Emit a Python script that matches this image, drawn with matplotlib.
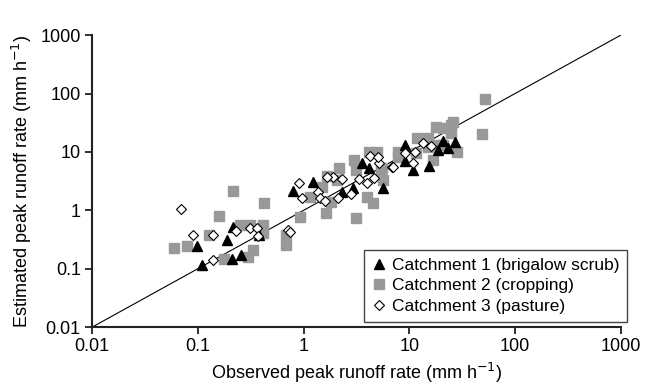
import matplotlib

matplotlib.use("Agg")
import matplotlib.pyplot as plt

plt.rcParams["font.family"] = ["Liberation Sans", "DejaVu Sans"]

# Catchment 1 (brigalow scrub) - observed / estimated peak runoff rate (mm/h)
c1_obs = [0.099, 0.11, 0.187, 0.21, 0.217, 0.256, 0.38, 0.79, 1.22, 2.29,
          2.91, 3.54, 4.18, 5.67, 9.1, 9.1, 10.9, 15.4, 20.6, 27, 23.3, 18.8]
c1_est = [0.246, 0.115, 0.31, 0.146, 0.51, 0.17, 0.38, 2.17, 3.03, 2.09,
          2.39, 6.55, 5.25, 2.45, 13.1, 7.1, 4.95, 5.75, 15.6, 15, 11.5, 10.8]

# Catchment 2 (cropping)
c2_obs = [0.060, 0.079, 0.128, 0.16, 0.217, 0.178, 0.25, 0.31, 0.30, 0.335,
          0.41, 0.41, 0.42, 0.68, 0.68, 0.92, 1.15, 1.48, 1.63, 1.82,
          1.65, 2.17, 2.08, 3.13, 4.0, 4.56, 2.99, 3.1, 4.18, 4.91,
          5.47, 5.6, 5.36, 7.85, 7.85, 11.7, 11.5, 15.1, 15.1, 18.8,
          17.8, 20.9, 24.6, 25.7, 24.6, 20.9, 28, 16.6, 49, 52]
c2_est = [0.23, 0.25, 0.38, 0.80, 2.17, 0.149, 0.56, 0.56, 0.16, 0.21,
          0.56, 0.41, 1.32, 0.38, 0.26, 0.78, 1.72, 2.54, 0.89, 1.41,
          3.88, 5.25, 3.31, 0.73, 1.68, 1.32, 7.28, 4.91, 10.1, 10.1,
          5.25, 3.31, 4.91, 10.1, 8.3, 17.1, 9.7, 12.3, 17.1, 13.1,
          26.4, 25.4, 28.9, 32.9, 20.8, 13.1, 10.1, 7.28, 20.3, 80]

# Catchment 3 (pasture)
c3_obs = [0.069, 0.090, 0.14, 0.14, 0.23, 0.31, 0.365, 0.37, 0.72, 0.75,
          0.90, 0.97, 1.38, 1.43, 1.58, 2.13, 1.88, 1.65, 2.29, 2.79,
          3.36, 3.95, 4.24, 5.2, 4.63, 6.8, 9.1, 11.3, 13.5, 10.9,
          15.9, 5.08, 7.05]
c3_est = [1.04, 0.38, 0.375, 0.14, 0.44, 0.49, 0.50, 0.37, 0.46, 0.43,
          2.98, 1.65, 2.09, 1.61, 1.47, 1.65, 3.78, 3.78, 3.41, 1.89,
          3.41, 2.91, 8.5, 6.4, 3.54, 5.6, 9.5, 10.1, 14.4, 6.55,
          12.6, 8.3, 5.46]

one_to_one = [0.01, 1000]
tick_vals = [0.01, 0.1, 1, 10, 100, 1000]
tick_labels = ["0.01", "0.1", "1", "10", "100", "1000"]

fig = plt.figure(figsize=(6.57, 3.9), dpi=100)
ax = fig.add_axes([0.140, 0.161, 0.805, 0.749])

ax.plot(one_to_one, one_to_one, color="black", lw=0.8, zorder=1)
ax.plot(c1_obs, c1_est, ls="none", marker="^", ms=7.5, color="black",
        label="Catchment 1 (brigalow scrub)", zorder=3)
ax.plot(c2_obs, c2_est, ls="none", marker="s", ms=7, color="#999999",
        label="Catchment 2 (cropping)", zorder=2)
ax.plot(c3_obs, c3_est, ls="none", marker="D", ms=5, mfc="white",
        mec="black", mew=0.8, label="Catchment 3 (pasture)", zorder=4)

ax.set_xscale("log")
ax.set_yscale("log")
ax.set_xlim(0.01, 1000)
ax.set_ylim(0.01, 1000)
ax.set_xticks(tick_vals)
ax.set_xticklabels(tick_labels)
ax.set_yticks(tick_vals)
ax.set_yticklabels(tick_labels)
ax.minorticks_off()
ax.tick_params(labelsize=13, length=5, width=1.3, color="#222222", pad=3)

for side in ["top", "right"]:
    ax.spines[side].set_visible(False)
for side in ["left", "bottom"]:
    ax.spines[side].set_linewidth(1.5)
    ax.spines[side].set_color("#222222")

ax.set_xlabel("Observed peak runoff rate (mm h$^{-1}$)", fontsize=13, labelpad=4)
ax.set_ylabel("Estimated peak runoff rate (mm h$^{-1}$)", fontsize=13, labelpad=5)

leg = ax.legend(loc="lower right", bbox_to_anchor=(1.012, 0.019),
                borderaxespad=0, fontsize=12.5, frameon=True, fancybox=False,
                framealpha=1, edgecolor="#444444", handlelength=0.8,
                handletextpad=0.35, labelspacing=0.3, borderpad=0.45,
                numpoints=1)
leg.get_frame().set_linewidth(1.0)
leg.set_clip_on(False)

fig.savefig("out.png", dpi=100)
